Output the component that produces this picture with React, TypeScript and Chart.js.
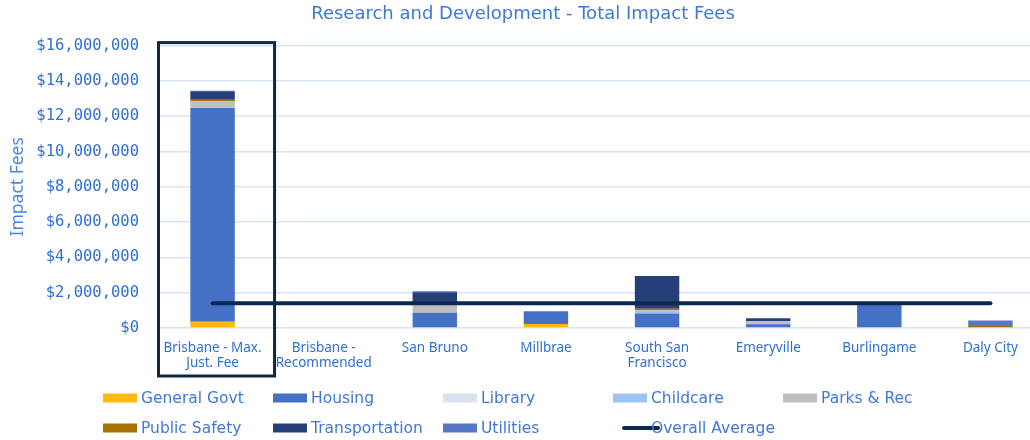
import React, { useEffect, useRef } from "react";
import { Chart, registerables } from "chart.js";

Chart.register(...registerables);

const chartTitle = "Research and Development - Total Impact Fees";
const yAxisTitle = "Impact Fees";

const categories: (string | string[])[] = [
  ["Brisbane - Max.", "Just. Fee"],
  ["Brisbane -", "Recommended"],
  "San Bruno",
  "Millbrae",
  ["South San", "Francisco"],
  "Emeryville",
  "Burlingame",
  "Daly City",
];

const generalGovt = [350000, 0, 0, 230000, 0, 0, 0, 0];
const housing = [12130000, 0, 870000, 720000, 815000, 210000, 1450000, 0];
const library = [30000, 0, 0, 0, 0, 0, 0, 0];
const childcare = [0, 0, 0, 0, 150000, 0, 0, 0];
const parksRec = [340000, 0, 510000, 0, 40000, 170000, 0, 0];
const publicSafety = [80000, 0, 0, 0, 90000, 0, 0, 110000];
const transportation = [480000, 0, 640000, 0, 1855000, 170000, 0, 0];
const utilities = [30000, 0, 60000, 0, 0, 0, 0, 320000];
const overallAverage = [1405000, 1405000, 1405000, 1405000, 1405000, 1405000, 1405000, 1405000];

const yTickValues = [0, 2000000, 4000000, 6000000, 8000000, 10000000, 12000000, 14000000, 16000000];

const seriesNames = [
  "General Govt",
  "Housing",
  "Library",
  "Childcare",
  "Parks & Rec",
  "Public Safety",
  "Transportation",
  "Utilities",
];
const seriesValues = [generalGovt, housing, library, childcare, parksRec, publicSafety, transportation, utilities];
const seriesColors = ["#FFB90F", "#4470C6", "#DAE2F2", "#9EC3F5", "#BFBFBF", "#A87200", "#263F78", "#5677C3"];
const averageName = "Overall Average";
const averageColor = "#0B2851";

const BLUE_TEXT = "#2F6FD6";
const TITLE_BLUE = "#3F78D8";
const WIDE_FONT = "'DejaVu Sans', sans-serif";

const legendPlugin = {
  id: "gridLegend",
  afterDraw(chart: any) {
    const ctx = chart.ctx;
    ctx.save();
    ctx.font = "15.5px " + WIDE_FONT;
    ctx.textBaseline = "middle";
    const items = seriesNames.map((n, i) => ({ name: n, color: seriesColors[i], line: false }));
    items.push({ name: averageName, color: averageColor, line: true });
    items.forEach((it, i) => {
      const row = i < 5 ? 0 : 1;
      const col = i < 5 ? i : i - 5;
      const x = 103 + col * 170;
      const y = row === 0 ? 398 : 428;
      if (it.line) {
        ctx.strokeStyle = it.color;
        ctx.lineWidth = 4;
        ctx.lineCap = "round";
        ctx.beginPath();
        ctx.moveTo(x + 11, y);
        ctx.lineTo(x + 45, y);
        ctx.stroke();
      } else {
        ctx.fillStyle = it.color;
        ctx.fillRect(x, y - 4.5, 34, 9);
      }
      ctx.fillStyle = TITLE_BLUE;
      ctx.textAlign = "left";
      ctx.fillText(it.name, x + 38, y + 1);
    });
    ctx.restore();
  },
};

const highlightPlugin = {
  id: "highlightBox",
  afterDraw(chart: any) {
    const ctx = chart.ctx;
    const xs = chart.scales.x;
    const area = chart.chartArea;
    const cx = xs.getPixelForValue(0);
    ctx.save();
    ctx.strokeStyle = "#0E2841";
    ctx.lineWidth = 3;
    ctx.strokeRect(area.left + 1.5, area.top - 3, cx + 62 - (area.left + 1.5), area.bottom + 48 - (area.top - 3));
    ctx.restore();
  },
};

export default function App() {
  const canvasRef = useRef<HTMLCanvasElement | null>(null);

  useEffect(() => {
    if (!canvasRef.current) return;
    Chart.defaults.font.family = "'Noto Sans', sans-serif";
    const datasets: any[] = seriesNames.map((name, i) => ({
      type: "bar",
      label: name,
      data: seriesValues[i],
      backgroundColor: seriesColors[i],
      borderWidth: 0,
      stack: "fees",
      order: 1,
      categoryPercentage: 1,
      barPercentage: 0.4,
    }));
    datasets.push({
      type: "line",
      label: averageName,
      data: overallAverage,
      borderColor: averageColor,
      backgroundColor: averageColor,
      borderWidth: 4,
      pointRadius: 0,
      stack: "avg",
      order: 0,
      borderCapStyle: "round",
    });

    const chart = new Chart(canvasRef.current, {
      type: "bar",
      data: { labels: categories as any, datasets },
      plugins: [highlightPlugin, legendPlugin],
      options: {
        animation: false,
        responsive: true,
        maintainAspectRatio: false,
        layout: { padding: { left: 0, right: 0, top: 0, bottom: 70 } },
        plugins: {
          legend: { display: false },
          tooltip: { enabled: false },
          title: {
            display: true,
            text: chartTitle,
            color: TITLE_BLUE,
            font: { size: 18, weight: "normal", family: WIDE_FONT },
            padding: { top: 4, bottom: 20 },
          },
        },
        scales: {
          x: {
            stacked: true,
            grid: { display: false },
            border: { display: false },
            ticks: {
              color: BLUE_TEXT,
              font: { size: 13.5, family: "'Noto Sans', sans-serif", lineHeight: 1.15 },
              maxRotation: 0,
              autoSkip: false,
              padding: 4,
            },
            afterFit(scale: any) {
              scale.height = 42;
            },
          },
          y: {
            stacked: true,
            min: 0,
            max: 16000000,
            afterBuildTicks(scale: any) {
              scale.ticks = yTickValues.map((v) => ({ value: v }));
            },
            grid: { color: "#D6E4F8", lineWidth: 1.5, drawTicks: false },
            border: { display: false },
            ticks: {
              color: BLUE_TEXT,
              font: { size: 15.5, family: "'DejaVu Sans Mono', monospace" },
              padding: 18,
              callback: (v: any) => "$" + Number(v).toLocaleString("en-US"),
            },
            title: {
              display: true,
              text: yAxisTitle,
              color: "#4A86E8",
              font: { size: 17.5, family: "'Noto Sans', sans-serif" },
              padding: { top: 8, bottom: 0 },
            },
            afterFit(scale: any) {
              scale.width = 157;
            },
          },
        },
      },
    });
    return () => chart.destroy();
  }, []);

  return (
    <div style={{ position: "absolute", left: 0, top: 0, width: 1030, height: 440, overflow: "hidden", background: "#fff" }}>
      <div style={{ position: "relative", width: 1046, height: 440 }}>
        <canvas ref={canvasRef} />
      </div>
    </div>
  );
}
